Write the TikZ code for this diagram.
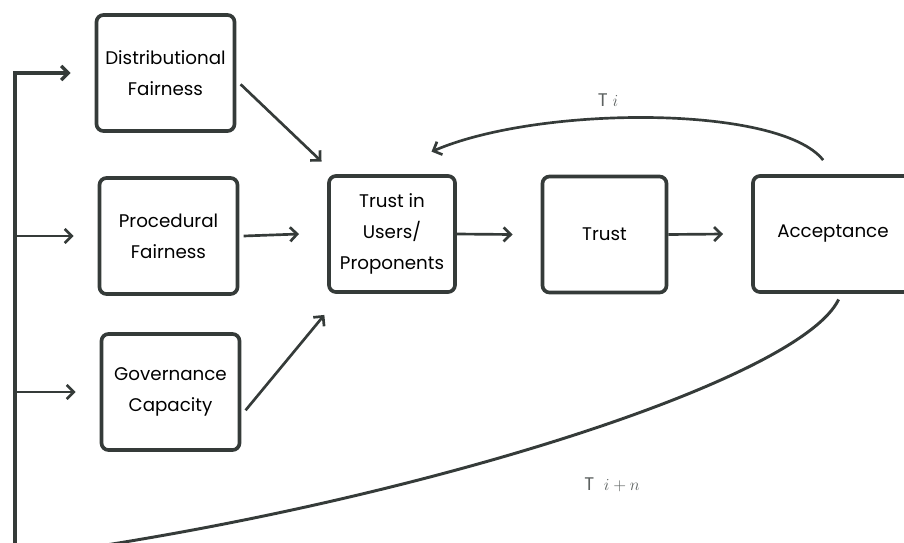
\documentclass[tikz,border=0pt]{standalone}
\usepackage{fontspec}
\setmainfont{Poppins}
\usetikzlibrary{arrows.meta}
\definecolor{ink}{HTML}{353B39}
\tikzset{
    box/.style={draw=ink, line width=2.6pt, rounded corners=5pt, align=center,
        font=\fontsize{13}{22}\selectfont, inner sep=2pt},
    arr/.style={draw=ink, line width=1.9pt, -{Straight Barb[length=5pt,width=10pt]}},
    link/.style={draw=ink, line width=2.1pt}
}
\begin{document}
\begin{tikzpicture}[x=0.025cm, y=-0.025cm]

    % Frame of the picture (the Acceptance box runs past the right edge)
    \clip (0,0) rectangle (904,542);

    % Factor boxes on the left
    \node[box, minimum width=3.45cm, minimum height=2.9cm] (dist) at (165.5,73) {Distributional\\Fairness};   % Top factor
    \node[box, minimum width=3.45cm, minimum height=2.9cm] (proc) at (168.5,236) {Procedural\\Fairness};      % Middle factor
    \node[box, minimum width=3.45cm, minimum height=2.9cm] (gov) at (170.5,392) {Governance\\Capacity};       % Bottom factor

    % Chain of boxes in the middle row
    \node[box, minimum width=3.15cm, minimum height=2.9cm] (tiu) at (392,234) {Trust in\\Users/\\Proponents}; % Trust in users
    \node[box, minimum width=3.1cm, minimum height=2.9cm] (trust) at (604.5,234.5) {Trust};                    % Trust
    \node[box, minimum width=4cm, minimum height=2.9cm] (acc) at (833,234) {Acceptance};                       % Acceptance

    % Feedback line on the left side
    \coordinate (bot) at (15,560);   % Foot of the vertical line
    \draw[arr, line width=2.4pt] (bot) |- ([xshift=-0.6cm]dist.west);   % Line up to Distributional Fairness
    \draw[arr] (bot |- proc.west) -- ([xshift=-0.6cm]proc.west);         % Branch to Procedural Fairness
    \draw[arr] (bot |- gov.west) -- ([xshift=-0.6cm]gov.west);           % Branch to Governance Capacity

    % Factors into trust in users
    \draw[arr] ([xshift=3pt,yshift=-8pt]dist.east) -- ([xshift=-4pt,yshift=9pt]tiu.north west);   % Distributional
    \draw[arr] ([xshift=3pt]proc.east) -- ([xshift=-20pt]tiu.west);                               % Procedural
    \draw[arr] ([xshift=3pt,yshift=-13pt]gov.east) -- ([xshift=-2pt,yshift=-15pt]tiu.south west); % Governance

    % Along the middle row
    \draw[arr] (tiu.east) -- ([xshift=-20pt]trust.west);   % Trust in users to trust
    \draw[arr] (trust.east) -- ([xshift=-20pt]acc.west);   % Trust to acceptance

    % Feedback curve T i over the top
    \draw[arr] ([xshift=-7pt,yshift=10pt]acc.north) .. controls (780,105) and (540,105) ..
        ([xshift=-18pt,yshift=16pt]tiu.north east);
    \node[text=ink!80, font=\fontsize{13}{15}\selectfont] (ti) at (608,100) {T $i$};

    % Feedback curve T i+n underneath
    \coordinate (loop) at (60,552);  % Where the lower curve leaves the picture
    \draw[link] ([xshift=4pt,yshift=-4pt]acc.south) .. controls (800,380) and (420,500) .. (loop);
    \node[text=ink!80, font=\fontsize{13}{15}\selectfont] (tin) at (612,485) {T \ $i+n$};

\end{tikzpicture}
\end{document}
